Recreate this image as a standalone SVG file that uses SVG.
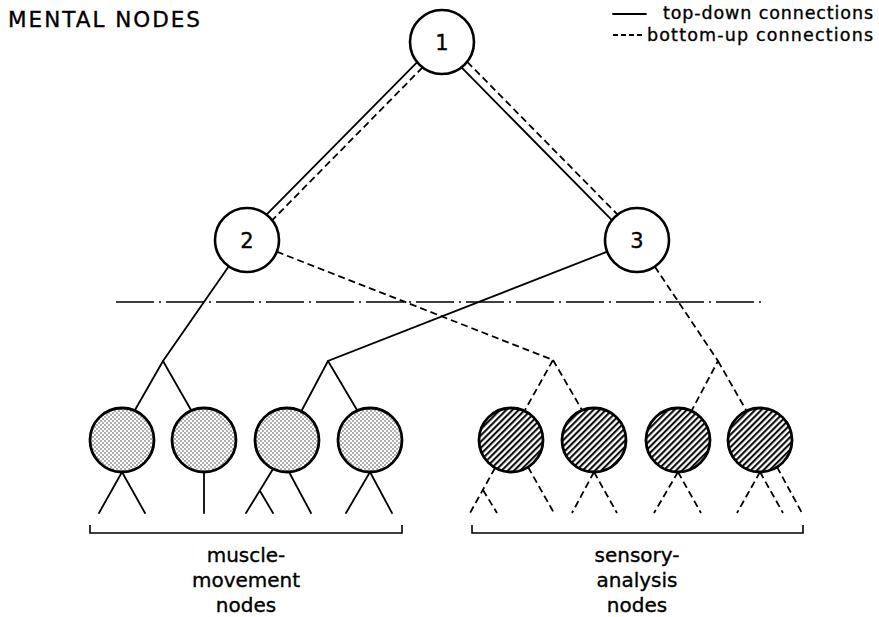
<svg xmlns="http://www.w3.org/2000/svg" width="879" height="617" viewBox="0 0 879 617">
<style>
text{font-family:"DejaVu Sans","Liberation Sans",sans-serif;fill:#000;stroke:#000;stroke-width:0.35}
.big{fill:#fff;stroke:#000;stroke-width:2.6}
.mus{fill:url(#stip);stroke:#000;stroke-width:2.8}
.sen{fill:url(#hatch);stroke:#000;stroke-width:2.8}
.td{stroke:#000;stroke-width:1.8;fill:none;stroke-linecap:round}
.bu{stroke:#000;stroke-width:1.8;fill:none;stroke-dasharray:7 4}
.num{font-size:21px;text-anchor:middle}
.lab{font-size:20px;text-anchor:middle}
</style>
<defs>
<pattern id="stip" patternUnits="userSpaceOnUse" width="4" height="4">
<rect width="4" height="4" fill="#fff"/>
<circle cx="1" cy="1" r="0.7" fill="#222"/>
<circle cx="3" cy="3" r="0.7" fill="#222"/>
</pattern>
<pattern id="hatch" patternUnits="userSpaceOnUse" width="4.4" height="10" patternTransform="rotate(45)">
<rect width="4.4" height="10" fill="#fff"/>
<line x1="1.1" y1="0" x2="1.1" y2="10" stroke="#000" stroke-width="2"/>
</pattern>
</defs>
<rect width="879" height="617" fill="#fff"/>
<text x="8" y="27" font-size="21.5" textLength="192">MENTAL NODES</text>
<g id="legend">
<line x1="613" y1="14" x2="646" y2="14" class="td"/>
<line x1="613" y1="35" x2="645" y2="35" stroke="#000" stroke-width="1.8" stroke-dasharray="5 3"/>
<text x="663" y="19" font-size="17.5" textLength="210">top-down connections</text>
<text x="647" y="40.5" font-size="17.5" textLength="226">bottom-up connections</text>
</g>
<line id="divider" x1="116" y1="302" x2="765" y2="302" stroke="#000" stroke-width="1.6" stroke-dasharray="38 5 2 5"/>
<g id="connectors">
<line class="td" x1="461.5" y1="67.4" x2="611.9" y2="220.2"/>
<line class="td" x1="417.2" y1="62.2" x2="266.5" y2="214.6"/>
<line class="bu" x1="422.6" y1="67.4" x2="272.2" y2="220.2"/>
<line class="bu" x1="467.2" y1="61.8" x2="617.6" y2="214.6"/>
<polyline class="td" points="228.8,266.3 163,361 135,410"/>
<line class="td" x1="163" y1="361" x2="191" y2="410"/>
<polyline class="td" points="607.2,251.7 328,361 302,410"/>
<line class="td" x1="328" y1="361" x2="357" y2="410"/>
<line class="td" x1="122" y1="472" x2="99" y2="513"/>
<line class="td" x1="122" y1="472" x2="145" y2="513"/>
<line class="td" x1="204" y1="472" x2="204" y2="513"/>
<line class="td" x1="273" y1="469" x2="246" y2="513"/>
<line class="td" x1="260" y1="491" x2="273" y2="513"/>
<line class="td" x1="289" y1="472" x2="311" y2="513"/>
<line class="td" x1="370" y1="472" x2="346" y2="513"/>
<line class="td" x1="370" y1="472" x2="392" y2="513"/>
<polyline class="bu" points="276.8,251.7 553,360 525,410"/>
<line class="bu" x1="553" y1="360" x2="582" y2="410"/>
<polyline class="bu" points="654.8,266.6 718,361 692,410"/>
<line class="bu" x1="718" y1="361" x2="746" y2="410"/>
<line class="bu" x1="495" y1="468" x2="470" y2="513"/>
<line class="bu" x1="483" y1="490" x2="497" y2="513"/>
<line class="bu" x1="528" y1="467" x2="554" y2="513"/>
<line class="bu" x1="594" y1="472" x2="572" y2="513"/>
<line class="bu" x1="594" y1="472" x2="617" y2="513"/>
<line class="bu" x1="678" y1="472" x2="654" y2="513"/>
<line class="bu" x1="678" y1="472" x2="701" y2="513"/>
<line class="bu" x1="760" y1="472" x2="737" y2="513"/>
<line class="bu" x1="760" y1="472" x2="783" y2="513"/>
<line class="bu" x1="777" y1="467" x2="802" y2="513"/>
</g>
<g id="node1"><circle class="big" cx="442" cy="42" r="32"/><text class="num" x="442" y="49.5">1</text></g>
<g id="node2"><circle class="big" cx="247" cy="240" r="32"/><text class="num" x="247" y="247.5">2</text></g>
<g id="node3"><circle class="big" cx="637" cy="240" r="32"/><text class="num" x="637" y="247.5">3</text></g>
<g id="m1"><circle class="mus" cx="122" cy="440" r="32"/></g>
<g id="m2"><circle class="mus" cx="204" cy="440" r="32"/></g>
<g id="m3"><circle class="mus" cx="287" cy="440" r="32"/></g>
<g id="m4"><circle class="mus" cx="370" cy="440" r="32"/></g>
<g id="s1"><circle class="sen" cx="511" cy="440" r="32"/></g>
<g id="s2"><circle class="sen" cx="594" cy="440" r="32"/></g>
<g id="s3"><circle class="sen" cx="678" cy="440" r="32"/></g>
<g id="s4"><circle class="sen" cx="760" cy="440" r="32"/></g>
<g id="muscle-group">
<polyline points="90,525 90,533 402,533 402,525" fill="none" stroke="#000" stroke-width="1.6"/>
<text class="lab" x="246" y="562">muscle-</text>
<text class="lab" x="246" y="587">movement</text>
<text class="lab" x="246" y="612">nodes</text>
</g>
<g id="sensory-group">
<polyline points="472,525 472,533 803,533 803,525" fill="none" stroke="#000" stroke-width="1.6"/>
<text class="lab" x="637" y="562">sensory-</text>
<text class="lab" x="637" y="587">analysis</text>
<text class="lab" x="637" y="612">nodes</text>
</g>
</svg>
